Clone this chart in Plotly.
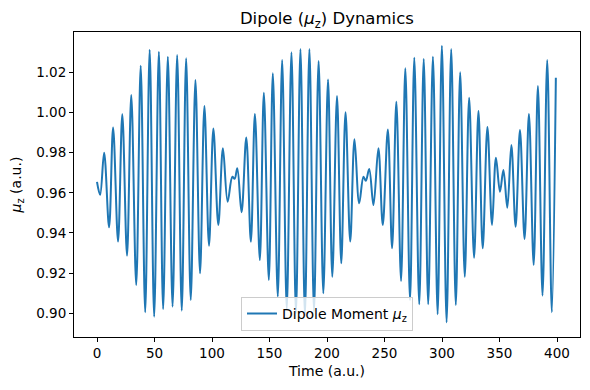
import plotly.graph_objects as go

# Time (a.u.) of read-off turning points of the dipole signal
time_au = [0, 2.7, 6.2, 10.5, 14.0, 18.3, 22.0, 26.1, 29.8, 34.1, 38.0, 41.9, 45.8, 49.7,
           53.8, 57.5, 61.6, 65.7, 69.7, 73.7, 77.5, 81.5, 85.6, 89.6, 93.4, 97.4, 101.2,
           105.5, 109.5, 113.6, 117.7, 119.7, 122.0, 125.7, 129.8, 133.8, 137.3, 141.6,
           145.1, 149.4, 152.9, 157.2, 161.0, 165.0, 169.1, 173.0, 176.9, 180.8, 184.7,
           188.7, 192.7, 196.8, 200.9, 204.6, 208.7, 212.4, 216.1, 220.2, 223.9, 228.0,
           231.7, 233.8, 236.7, 240.4, 244.7, 248.5, 252.9, 256.6, 260.3, 264.4, 268.1,
           272.2, 275.9, 280.2, 284.1, 288.0, 292.1, 296.2, 299.9, 304.0, 308.0, 312.0,
           315.8, 319.8, 323.6, 327.9, 331.7, 335.4, 339.5, 343.5, 346.9, 350.4, 353.4,
           356.8, 360.3, 364.0, 367.8, 371.8, 375.6, 379.7, 383.4, 387.4, 391.5, 395.5,
           399.0]

# Dipole moment mu_z (a.u.)
mu_z = [0.9655, 0.9590, 0.9800, 0.9428, 0.9926, 0.9357, 0.9991, 0.9287, 1.0087, 0.9141,
        1.0233, 0.9005, 1.0313, 0.8983, 1.0303, 0.9021, 1.0278, 0.9033, 1.0286, 0.9013,
        1.0270, 0.9066, 1.0162, 0.9199, 1.0032, 0.9337, 0.9921, 0.9440, 0.9822, 0.9556,
        0.9680, 0.9670, 0.9722, 0.9503, 0.9875, 0.9357, 0.9993, 0.9265, 1.0099, 0.9166,
        1.0195, 0.9083, 1.0261, 0.9020, 1.0300, 0.9000, 1.0316, 0.8990, 1.0316, 0.9010,
        1.0256, 0.9100, 1.0165, 0.9182, 1.0082, 0.9249, 1.0001, 0.9357, 0.9867, 0.9548,
        0.9680, 0.9660, 0.9719, 0.9539, 0.9822, 0.9440, 0.9916, 0.9324, 1.0054, 0.9161,
        1.0220, 0.9066, 1.0273, 0.9045, 1.0267, 0.9045, 1.0278, 0.8995, 1.0333, 0.8955,
        1.0316, 0.9041, 1.0200, 0.9182, 1.0074, 0.9277, 1.0007, 0.9324, 0.9928, 0.9440,
        0.9775, 0.9606, 0.9714, 0.9526, 0.9838, 0.9431, 0.9913, 0.9370, 0.9993, 0.9241,
        1.0132, 0.9088, 1.0261, 0.9005, 1.0173]

x_ticks = [0, 50, 100, 150, 200, 250, 300, 350, 400]
y_ticks = [0.90, 0.92, 0.94, 0.96, 0.98, 1.00, 1.02]

font = "DejaVu Sans"

fig = go.Figure()
fig.add_trace(go.Scatter(
    x=time_au, y=mu_z, mode="lines",
    line=dict(color="#1f77b4", width=2, shape="spline", smoothing=1.0),
    name="Dipole Moment <i>μ</i><sub>z</sub>",
))

axis_common = dict(
    showline=True, linecolor="black", linewidth=1, mirror=True,
    ticks="outside", ticklen=4, tickcolor="black", tickwidth=1,
    showgrid=False, zeroline=False, automargin=False,
    tickfont=dict(family=font, size=13.5, color="black"),
)

fig.update_layout(
    width=590, height=390,
    paper_bgcolor="white", plot_bgcolor="white",
    margin=dict(l=74, r=10, t=32, b=53),
    title=dict(text="Dipole (<i>μ</i><sub>z</sub>) Dynamics", x=0.554, xanchor="center",
               y=0.952, yanchor="middle",
               font=dict(family=font, size=16.5, color="black")),
    xaxis=dict(range=[-20, 420], tickvals=x_ticks, ticktext=[str(v) for v in x_ticks],
               title=dict(text="Time (a.u.)", font=dict(family=font, size=14, color="black"),
                          standoff=5),
               **axis_common),
    yaxis=dict(range=[0.8882, 1.0401], tickvals=y_ticks,
               ticktext=[f"{v:.2f}" for v in y_ticks],
               title=dict(text="<i>μ</i><sub>z</sub> (a.u.)",
                          font=dict(family=font, size=14, color="black"), standoff=11),
               **axis_common),
    showlegend=True,
    legend=dict(x=0.5, xanchor="center", y=0.02, yanchor="bottom",
                bgcolor="rgba(255,255,255,0.8)", bordercolor="#cccccc", borderwidth=1,
                font=dict(family=font, size=14, color="black")),
)

fig.write_html("out.html", config={"displayModeBar": False},
               post_script="document.body.style.margin='0';document.body.style.padding='0';")
